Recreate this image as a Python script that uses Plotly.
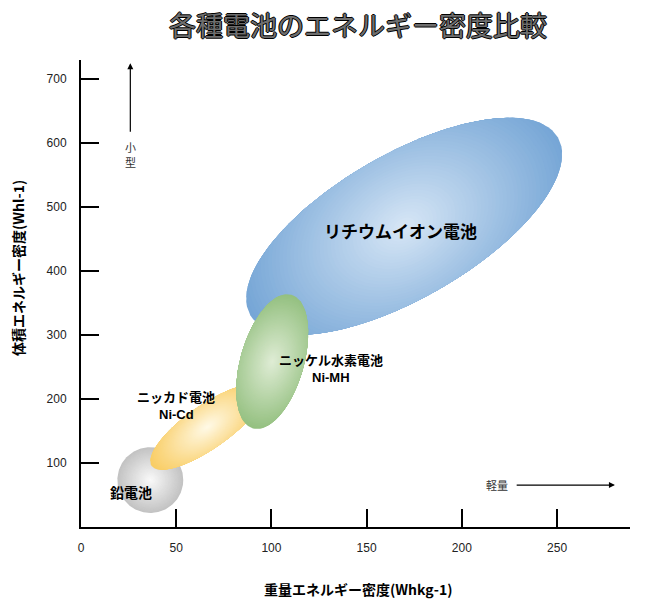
import numpy as np
import plotly.graph_objects as go

# ---------------- data ----------------
battery_names = ["鉛電池", "ニッカド電池", "リチウムイオン電池", "ニッケル水素電池"]
# ellipse centre (Wh/kg, Wh/l)
center_x = [36.4, 66.3, 169.7, 100.4]
center_y = [73.4, 156.3, 470.0, 258.6]
# end of the major axis (Wh/kg, Wh/l)
tip_x = [53.7, 95.5, 250.5, 110.5]
tip_y = [73.4, 217.2, 609.0, 363.1]
# minor / major ratio
axis_ratio = [1.0, 0.32, 0.405, 0.455]

# labels
label_lines1 = ["鉛電池", "ニッカド電池", "リチウムイオン電池", "ニッケル水素電池"]
label_lines2 = ["", "Ni-Cd", "", "Ni-MH"]
label_x = [26.4, 50.0, 167.6, 131.4]
label_y1 = [54.7, 204.7, 464.0, 262.5]
label_y2 = [None, 176.6, None, 234.4]

x_ticks = [0, 50, 100, 150, 200, 250]
y_ticks = [100, 200, 300, 400, 500, 600, 700]
x_range = [0, 288.3]
y_range = [0, 730]

title_text = "各種電池のエネルギー密度比較"
x_title = "重量エネルギー密度(Whkg-1)"
y_title = "体積エネルギー密度(Whl-1)"

# ---------------- styles ----------------
W, H = 648, 604
M = dict(l=81, r=18, t=60, b=77)
edge_cols = [(195, 195, 195), (249, 205, 100), (118, 166, 214), (148, 192, 128)]
center_cols = [(250, 250, 250), (255, 250, 232), (216, 231, 246), (224, 237, 214)]
grad_k = [1.0, 1.6, 1.7, 1.4]
CJK = "Noto Sans CJK JP"
LAT = "Liberation Sans"

plot_w = W - M["l"] - M["r"]
plot_h = H - M["t"] - M["b"]
sx = plot_w / (x_range[1] - x_range[0])
sy = plot_h / (y_range[1] - y_range[0])

fig = go.Figure()

N = 45
theta = np.linspace(0, 2 * np.pi, 241)


def rho(a, b, t):
    return a * b / np.sqrt((b * np.cos(t)) ** 2 + (a * np.sin(t)) ** 2)


for i in range(len(battery_names)):
    cx, cy = center_x[i] * sx, center_y[i] * sy
    ux, uy = tip_x[i] * sx - cx, tip_y[i] * sy - cy
    a = np.hypot(ux, uy)
    phi = np.arctan2(uy, ux)
    b = a * axis_ratio[i]
    gb = min(a, b * grad_k[i])
    r_el = rho(a, b, theta)
    r_gr = rho(a, gb, theta)
    for s in np.linspace(1.0, 0.02, N):
        r = np.minimum(s * r_gr, r_el)
        px = cx + r * np.cos(theta + phi)
        py = cy + r * np.sin(theta + phi)
        c = [int(round(center_cols[i][k] + (edge_cols[i][k] - center_cols[i][k]) * s)) for k in range(3)]
        col = f"rgb({c[0]},{c[1]},{c[2]})"
        fig.add_trace(go.Scatter(
            x=px / sx, y=py / sy, mode="lines", fill="toself",
            fillcolor=col, line=dict(width=0, color=col),
            hoverinfo="skip", showlegend=False))

annotations = []
label_sizes = [14, 13, 17, 13]
for i in range(len(battery_names)):
    annotations.append(dict(x=label_x[i], y=label_y1[i], xref="x", yref="y",
                            text=f"<b>{label_lines1[i]}</b>", showarrow=False,
                            font=dict(family=CJK, size=label_sizes[i], color="#000")))
    if label_lines2[i]:
        annotations.append(dict(x=label_x[i], y=label_y2[i], xref="x", yref="y",
                                text=f"<b>{label_lines2[i]}</b>", showarrow=False,
                                font=dict(family=LAT, size=13, color="#000")))

# arrows and hints
annotations += [
    dict(x=25.9, y=725, ax=25.9, ay=615.6, xref="x", yref="y", axref="x", ayref="y",
         text="", showarrow=True, arrowhead=2, arrowsize=1, arrowwidth=1.2, arrowcolor="#000"),
    dict(x=280.4, y=65.6, ax=228, ay=65.6, xref="x", yref="y", axref="x", ayref="y",
         text="", showarrow=True, arrowhead=2, arrowsize=1, arrowwidth=1.2, arrowcolor="#000"),
    dict(x=25.9, y=593.7, xref="x", yref="y", text="小", showarrow=False,
         font=dict(family=CJK, size=11, color="#333")),
    dict(x=25.9, y=570.3, xref="x", yref="y", text="型", showarrow=False,
         font=dict(family=CJK, size=11, color="#333")),
    dict(x=218.5, y=65.6, xref="x", yref="y", text="軽量", showarrow=False,
         font=dict(family=CJK, size=11, color="#333")),
    dict(x=358 / W, y=1 - 589 / H, xref="paper", yref="paper", yanchor="middle",
         text=f"<b>{x_title}</b>", showarrow=False,
         font=dict(family=CJK, size=14, color="#000")),
    dict(x=18 / W, y=1 - 268 / H, xref="paper", yref="paper", xanchor="center", yanchor="middle",
         text=f"<b>{y_title}</b>", textangle=-90, showarrow=False,
         font=dict(family=CJK, size=14, color="#000")),
]
# convert page-pixel positions of axis titles to plot-area paper fractions
for ann in annotations[-2:]:
    px_, py_ = ann["x"] * W, (1 - ann["y"]) * H
    ann["x"] = (px_ - M["l"]) / plot_w
    ann["y"] = 1 - (py_ - M["t"]) / plot_h

fig.update_layout(
    width=W, height=H, margin=M,
    paper_bgcolor="white", plot_bgcolor="white",
    title=dict(text=title_text, x=358 / W, xanchor="center", y=1 - 27 / H, yanchor="middle",
               yref="container", xref="container",
               font=dict(family=CJK, size=27, color="#6e6e6e", weight=400,
                         shadow="1px 0 0 #000, -1px 0 0 #000, 0 1px 0 #000, 0 -1px 0 #000")),
    annotations=annotations,
    showlegend=False,
    xaxis=dict(range=x_range, tickvals=x_ticks, ticks="inside", ticklen=18, tickwidth=2,
               tickcolor="#000", showline=True, linecolor="#000", linewidth=2,
               showgrid=False, zeroline=False, ticklabelstandoff=9,
               tickfont=dict(family=LAT, size=12, color="#222")),
    yaxis=dict(range=y_range, tickvals=y_ticks, ticks="inside", ticklen=18, tickwidth=2,
               tickcolor="#000", showline=True, linecolor="#000", linewidth=2,
               showgrid=False, zeroline=False, ticklabelstandoff=10,
               tickfont=dict(family=LAT, size=12, color="#222")),
)

fig.write_html("out.html", config={"displayModeBar": False},
               post_script="document.body.style.margin='0';document.body.style.overflow='hidden';")
